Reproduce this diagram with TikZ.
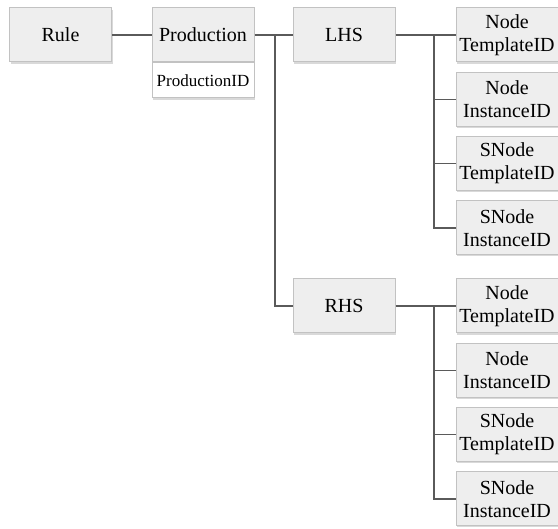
\documentclass[tikz,border=0pt]{standalone}
\usepackage{fontspec}
\setmainfont{Liberation Serif}
\usetikzlibrary{positioning,shadows}
\definecolor{boxfill}{HTML}{EEEEEE}
\definecolor{boxline}{HTML}{C2C2C2}
\definecolor{wiregray}{HTML}{5A5A5A}

\begin{document}
\begin{tikzpicture}[x=1pt,y=-1pt,
    box/.style={draw=boxline, fill=boxfill, line width=1pt, minimum width=102pt,
      minimum height=54pt, inner sep=0pt, align=center,
      font=\fontsize{20}{23}\selectfont,
      drop shadow={shadow xshift=1.2pt, shadow yshift=-1.6pt, opacity=.3}},
    wire/.style={draw=wiregray, line width=1.3pt}]
    \useasboundingbox (0,0) rectangle (558,529);
    \node[box] (rule) at (60.5,35) {Rule};
    \node[box] (prod) at (203,35)  {Production};
    \node[box, fill=white, minimum height=35pt, font=\fontsize{17}{20}\selectfont,
      below=0pt of prod] (prodid) {ProductionID};
    \node[box] (lhs)  at (344,35)  {LHS};
    \node[box] (rhs)  at (344,306) {RHS};
    \foreach \t [count=\i] in {{Node\\TemplateID},{Node\\InstanceID},
                               {SNode\\TemplateID},{SNode\\InstanceID}} {
      \node[box] (l\i) at (507,{35+64.3*(\i-1)})  {\t};
      \node[box] (r\i) at (507,{306+64.3*(\i-1)}) {\t};
    }
    % joints
    \coordinate (pj) at (275,35);
    \coordinate (lj) at (434,35);
    \coordinate (rj) at (434,306);
    \draw[wire] (rule) -- (prod);
    \draw[wire] (prod) -- (lhs);
    \draw[wire] (pj) |- (rhs);
    \draw[wire] (lhs) -- (l1);
    \draw[wire] (rhs) -- (r1);
    \foreach \i in {2,3,4} {
      \draw[wire] (lj) |- (l\i);
      \draw[wire] (rj) |- (r\i);
    }
\end{tikzpicture}
\end{document}
